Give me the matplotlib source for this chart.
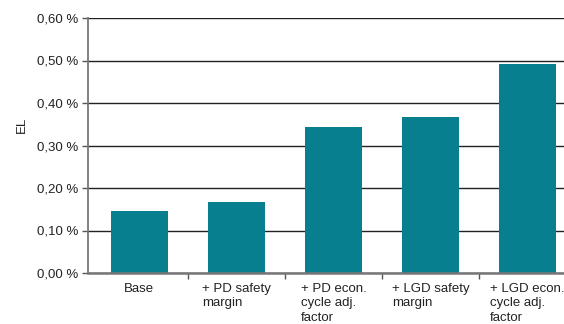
import matplotlib
matplotlib.use("Agg")
import matplotlib.pyplot as plt
from matplotlib.ticker import FuncFormatter, FixedLocator

plt.rcParams['font.family'] = ['Liberation Sans', 'DejaVu Sans']

categories = ["Base", "+ PD safety\nmargin", "+ PD econ.\ncycle adj.\nfactor",
              "+ LGD safety\nmargin", "+ LGD econ.\ncycle adj.\nfactor"]
el_values = [0.146, 0.168, 0.344, 0.367, 0.492]
y_ticks = [0.0, 0.1, 0.2, 0.3, 0.4, 0.5, 0.6]

fig = plt.figure(figsize=(5.64, 3.24), dpi=100)
ax = fig.add_axes([88/564, 51/324, 488/564, 255/324])

x = list(range(len(categories)))
ax.bar(x, el_values, width=0.58, color="#087f8f", zorder=3)

ax.set_xlim(-0.53, 4.5)
ax.set_ylim(0, 0.6)

ax.yaxis.set_major_locator(FixedLocator(y_ticks))
ax.yaxis.set_major_formatter(FuncFormatter(lambda v, p: f"{v:.2f} %".replace(".", ",")))
ax.grid(axis="y", color="#222222", linewidth=1.0, zorder=0)

ax.set_xticks(x)
ax.set_xticklabels(categories, fontsize=9.5, color="#222222", linespacing=1.3,
                   ha="center", multialignment="left")
ax.tick_params(axis="x", which="major", length=0, pad=7)
ax.set_xticks([0.5, 1.5, 2.5, 3.5], minor=True)
ax.tick_params(axis="x", which="minor", length=4, width=1, color="#555555", direction="out")
ax.tick_params(axis="y", length=4, width=1, color="#555555", labelsize=9.5,
               labelcolor="#222222", pad=3)

for side in ("top", "right"):
    ax.spines[side].set_visible(False)
ax.spines["left"].set_color("#777777")
ax.spines["left"].set_linewidth(1.3)
ax.spines["bottom"].set_color("#777777")
ax.spines["bottom"].set_linewidth(1.8)
ax.spines["bottom"].set_zorder(4)

ax.set_ylabel("EL", fontsize=9.5, color="#222222")
ax.yaxis.set_label_coords(-0.123, 0.58)

fig.savefig("out.png", dpi=100)
